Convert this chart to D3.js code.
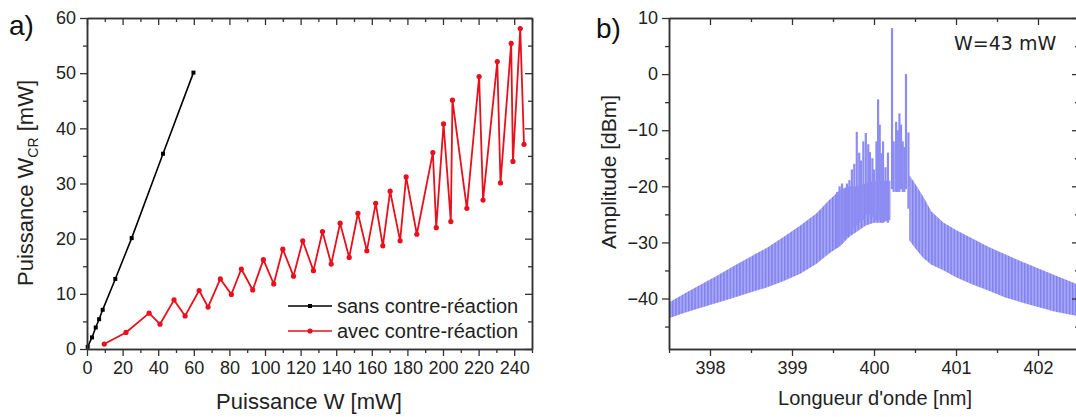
<!DOCTYPE html>
<html><head><meta charset="utf-8">
<script src="https://cdn.jsdelivr.net/npm/d3@7"></script>
<style>body{margin:0;background:#fff} svg{display:block}</style>
</head><body><svg id="c" width="1076" height="417"></svg>
<script>
// ---------- Panel a data ----------
const blackW   = [0.4, 2.8, 4.9, 6.8, 8.8, 15.9, 25.1, 42.7, 59.8];
const blackWcr = [0.4, 2.1, 3.9, 5.4, 7.1, 12.7, 20.1, 35.4, 50.1];
const redW   = [9.7, 21.9, 34.9, 41.0, 48.9, 55.1, 63.0, 68.0, 74.9, 81.1, 86.7, 93.1, 99.1, 104.9, 110.0, 116.0, 121.2, 127.2, 132.3, 137.2, 142.2, 147.3, 152.2, 157.2, 162.2, 166.2, 170.3, 175.9, 179.3, 185.3, 194.3, 196.2, 200.3, 204.4, 205.3, 213.4, 220.3, 222.5, 230.5, 232.3, 238.3, 239.3, 243.4, 245.5];
const redWcr = [0.9, 3.0, 6.5, 4.5, 8.9, 6.0, 10.6, 7.6, 12.7, 9.9, 14.5, 10.7, 16.2, 11.8, 18.1, 13.2, 19.6, 14.2, 21.3, 15.4, 22.8, 16.6, 24.6, 17.8, 26.4, 18.7, 28.6, 19.6, 31.2, 20.8, 35.6, 22.0, 40.8, 23.1, 45.1, 25.5, 49.4, 27.0, 52.1, 30.1, 55.4, 34.0, 58.1, 37.1];
const xTicksA = [0, 20, 40, 60, 80, 100, 120, 140, 160, 180, 200, 220, 240];
const xMinorA = [10, 30, 50, 70, 90, 110, 130, 150, 170, 190, 210, 230, 250];
const yTicksA = [0, 10, 20, 30, 40, 50, 60];
const yMinorA = [5, 15, 25, 35, 45, 55];
const seriesNames = ["sans contre-réaction", "avec contre-réaction"];

// ---------- Panel b data ----------
const specLWl = [397.5, 397.7, 397.9, 398.1, 398.3, 398.5, 398.7, 398.9, 399.1, 399.3, 399.45, 399.6, 399.7, 399.8, 399.9, 400.0, 400.1, 400.2];
const specLHi = [-40.7, -39.0, -37.4, -35.8, -34.1, -32.5, -30.9, -29.0, -27.0, -24.8, -22.5, -20.5, -20.0, -20.0, -19.5, -19.0, -19.0, -19.0];
const specLLo = [-43.5, -42.5, -41.6, -40.7, -39.8, -38.9, -38.0, -36.9, -35.6, -33.8, -32.0, -30.5, -29.0, -28.0, -27.0, -26.5, -26.5, -26.0];
const specRWl = [400.43, 400.5, 400.6, 400.7, 400.85, 401.0, 401.2, 401.4, 401.6, 401.8, 402.0, 402.2, 402.5];
const specRHi = [-18.0, -19.5, -21.8, -24.5, -26.5, -27.8, -29.3, -30.8, -32.1, -33.4, -34.6, -35.8, -37.6];
const specRLo = [-29.6, -31.0, -32.8, -34.0, -35.0, -36.2, -37.5, -38.6, -39.8, -40.7, -41.5, -42.3, -43.2];
const spikeWl  = [399.55, 399.58, 399.61, 399.64, 399.67, 399.70, 399.73, 399.76, 399.79, 399.82, 399.84, 399.87, 399.90, 399.93, 399.95, 399.98, 400.00, 400.03, 400.05, 400.07, 400.09, 400.11, 400.14, 400.17, 400.22, 400.24, 400.27, 400.29, 400.31, 400.33, 400.35, 400.37, 400.39, 400.42];
const spikeTop = [-21.0, -20.0, -19.5, -20.5, -19.5, -18.9, -17.0, -16.0, -10.3, -14.0, -15.4, -12.0, -10.5, -12.5, -13.9, -15.0, -17.0, -12.0, -4.5, -9.0, -14.1, -12.0, -16.6, -14.0, 8.2, -12.0, -8.5, -10.0, -7.0, -9.0, -12.0, -13.0, 0.0, -10.4];
const spikeBot = [-31.0, -30.5, -30.0, -29.5, -29.0, -28.5, -28.0, -27.5, -27.0, -26.5, -26.0, -26.0, -25.0, -25.5, -25.0, -25.5, -25.0, -26.0, -25.0, -26.0, -26.0, -26.5, -26.0, -26.5, -20.5, -21.0, -21.0, -21.0, -21.0, -20.5, -21.0, -21.0, -20.5, -24.0];
const xTicksB = [398, 399, 400, 401, 402];
const xMinorB = [397.5, 398.5, 399.5, 400.5, 401.5, 402.5];
const yTicksB = [-40, -30, -20, -10, 0, 10];
const yMinorB = [-45, -35, -25, -15, -5, 5];
const annotation = "W=43 mW";

// ---------- drawing ----------
const svg = d3.select("#c");
const FONT = "'Liberation Sans', Arial, sans-serif";
const AX = "#333";

function styleAxis(g, size) {
  g.attr("font-family", FONT).attr("font-size", size);
  g.selectAll("path.domain").attr("stroke", AX).attr("stroke-width", 1.5);
  g.selectAll(".tick line").attr("stroke", AX).attr("stroke-width", 1.3);
  g.selectAll(".tick text").attr("fill", "#222");
}

function frame(x, y, xt, xm, yt, ym, fmtX) {
  const [x0, x1] = x.range(), [y0, y1] = y.range();
  styleAxis(svg.append("g").attr("transform", `translate(0,${y0})`)
    .call(d3.axisBottom(x).tickValues(xm).tickSize(4).tickSizeOuter(0).tickFormat("")), 18);
  styleAxis(svg.append("g").attr("transform", `translate(0,${y0})`)
    .call(d3.axisBottom(x).tickValues(xt).tickSize(7).tickPadding(5).tickSizeOuter(0).tickFormat(fmtX)), 18);
  styleAxis(svg.append("g").attr("transform", `translate(0,${y1})`)
    .call(d3.axisTop(x).tickValues(xm).tickSize(-4).tickSizeOuter(0).tickFormat("")), 18);
  styleAxis(svg.append("g").attr("transform", `translate(0,${y1})`)
    .call(d3.axisTop(x).tickValues(xt).tickSize(-7).tickSizeOuter(0).tickFormat("")), 18);
  styleAxis(svg.append("g").attr("transform", `translate(${x0},0)`)
    .call(d3.axisLeft(y).tickValues(ym).tickSize(4).tickSizeOuter(0).tickFormat("")), 18);
  styleAxis(svg.append("g").attr("transform", `translate(${x0},0)`)
    .call(d3.axisLeft(y).tickValues(yt).tickSize(7).tickPadding(4).tickSizeOuter(0)), 18);
  styleAxis(svg.append("g").attr("transform", `translate(${x1},0)`)
    .call(d3.axisRight(y).tickValues(ym).tickSize(-4).tickSizeOuter(0).tickFormat("")), 18);
  styleAxis(svg.append("g").attr("transform", `translate(${x1},0)`)
    .call(d3.axisRight(y).tickValues(yt).tickSize(-7).tickSizeOuter(0).tickFormat("")), 18);
}

// ===== Panel a =====
const xa = d3.scaleLinear().domain([0, 250]).range([87, 532]);
const ya = d3.scaleLinear().domain([0, 60]).range([349, 18]);

const blackData = blackW.map((w, i) => [w, blackWcr[i]]);
const redData = redW.map((w, i) => [w, redWcr[i]]);
const lineA = d3.line().x(d => xa(d[0])).y(d => ya(d[1]));

svg.append("path").attr("d", lineA(blackData)).attr("fill", "none")
  .attr("stroke", "#000").attr("stroke-width", 1.6);
svg.selectAll(".bm").data(blackData).join("rect")
  .attr("x", d => xa(d[0]) - 2).attr("y", d => ya(d[1]) - 2)
  .attr("width", 4).attr("height", 4).attr("fill", "#000");

const RED = "#e8101c";
svg.append("path").attr("d", lineA(redData)).attr("fill", "none")
  .attr("stroke", RED).attr("stroke-width", 1.8).attr("stroke-linejoin", "round");
svg.selectAll(".rm").data(redData).join("circle")
  .attr("cx", d => xa(d[0])).attr("cy", d => ya(d[1])).attr("r", 2.6).attr("fill", RED);

frame(xa, ya, xTicksA, xMinorA, yTicksA, yMinorA, d3.format("d"));

const leg = svg.append("g");
[["#000", 306, "rect"], [RED, 331, "circle"]].forEach(([col, ly, m], i) => {
  leg.append("line").attr("x1", 288).attr("x2", 332).attr("y1", ly).attr("y2", ly)
    .attr("stroke", col).attr("stroke-width", 1.6);
  if (m === "rect") leg.append("rect").attr("x", 308).attr("y", ly - 2).attr("width", 4).attr("height", 4).attr("fill", col);
  else leg.append("circle").attr("cx", 310).attr("cy", ly).attr("r", 2.6).attr("fill", col);
  leg.append("text").attr("x", 337).attr("y", ly + 7).attr("font-family", FONT)
    .attr("font-size", 20).attr("fill", "#222").text(seriesNames[i]);
});

svg.append("text").attr("x", 309).attr("y", 409).attr("text-anchor", "middle")
  .attr("font-family", FONT).attr("font-size", 22).attr("fill", "#222").text("Puissance W [mW]");
const yt = svg.append("text").attr("transform", "translate(33,183) rotate(-90)").attr("text-anchor", "middle")
  .attr("font-family", FONT).attr("font-size", 22).attr("fill", "#222");
yt.append("tspan").text("Puissance W");
yt.append("tspan").attr("font-size", 14).attr("dy", 5).text("CR");
yt.append("tspan").attr("dy", -5).text(" [mW]");
svg.append("text").attr("x", 9).attr("y", 35).attr("font-family", FONT)
  .attr("font-size", 28).attr("fill", "#111").text("a)");

// ===== Panel b =====
const xb = d3.scaleLinear().domain([397.5, 402.5]).range([669, 1079]);
const yb = d3.scaleLinear().domain([-49, 10]).range([349, 18]);

const defs = svg.append("defs");
const pat = defs.append("pattern").attr("id", "comb").attr("patternUnits", "userSpaceOnUse")
  .attr("width", 3.2).attr("height", 10);
pat.append("rect").attr("width", 3.2).attr("height", 10).attr("fill", "#a6a6f6");
pat.append("rect").attr("x", 0).attr("width", 1.4).attr("height", 10).attr("fill", "#8080ef");
defs.append("clipPath").attr("id", "clipb").append("rect")
  .attr("x", 669).attr("y", 18).attr("width", 410).attr("height", 331);

const gb = svg.append("g").attr("clip-path", "url(#clipb)");
const area = d3.area().x(d => xb(d[0])).y0(d => yb(d[1])).y1(d => yb(d[2]));
const leftBand = specLWl.map((w, i) => [w, specLLo[i], specLHi[i]]);
const rightBand = specRWl.map((w, i) => [w, specRLo[i], specRHi[i]]);
gb.append("path").attr("d", area(leftBand)).attr("fill", "url(#comb)");
gb.append("path").attr("d", area(rightBand)).attr("fill", "url(#comb)");
const spikes = spikeWl.map((w, i) => [w, spikeTop[i], spikeBot[i]]);
gb.selectAll(".sp").data(spikes).join("line")
  .attr("x1", d => xb(d[0])).attr("x2", d => xb(d[0]))
  .attr("y1", d => yb(d[1])).attr("y2", d => yb(d[2]))
  .attr("stroke", "#8c8cf2").attr("stroke-width", 2.2);

frame(xb, yb, xTicksB, xMinorB, yTicksB, yMinorB, d3.format("d"));

svg.append("text").attr("x", 954).attr("y", 50).attr("font-family", "'DejaVu Sans', sans-serif")
  .attr("font-size", 19).attr("fill", "#222").text(annotation);
svg.append("text").attr("x", 875).attr("y", 405).attr("text-anchor", "middle")
  .attr("font-family", FONT).attr("font-size", 20).attr("fill", "#222").text("Longueur d'onde [nm]");
svg.append("text").attr("transform", "translate(616,172) rotate(-90)").attr("text-anchor", "middle")
  .attr("font-family", FONT).attr("font-size", 21).attr("fill", "#222").text("Amplitude [dBm]");
svg.append("text").attr("x", 596).attr("y", 38).attr("font-family", FONT)
  .attr("font-size", 28).attr("fill", "#111").text("b)");
</script></body></html>
